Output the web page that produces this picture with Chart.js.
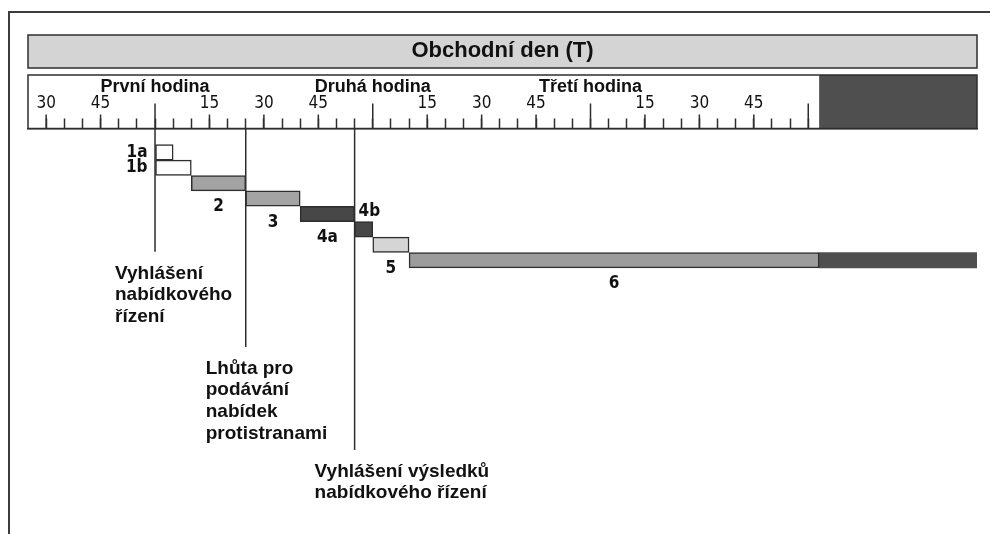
<!DOCTYPE html>
<html lang="cs">
<head>
<meta charset="utf-8">
<title>Obchodní den (T)</title>
<script src="https://cdn.jsdelivr.net/npm/chart.js@4.4.1/dist/chart.umd.min.js"></script>
<style>
  html, body { margin: 0; padding: 0; background: #fff; }
  #wrap { position: relative; width: 990px; height: 534px; overflow: hidden; }
  #frame { position: absolute; left: 8px; top: 11px; width: 1100px; height: 700px;
           border-left: 2px solid #3c3c3c; border-top: 2px solid #3c3c3c; }
  #chart { position: absolute; left: 0; top: 0; }
</style>
</head>
<body>
<div id="wrap">
  <div id="frame"></div>
  <canvas id="chart" width="990" height="534"></canvas>
</div>
<script>
// ============================
// DATA (minutes from the start of the first trading hour)
// ============================
const phases     = ["1a", "1b", "2", "3", "4a", "4b", "5", "6"];
const phaseStart = [0, 0, 10, 25, 40, 55, 60, 70];
const phaseEnd   = [5, 10, 25, 40, 55, 60, 70, 183];
const afterHours = [183, 226.5];          // dark tail after the close

const axisRange  = [-35, 226.5];
const rulerRange = [-30, 180];
const hourTicks  = [0, 60, 120];
const hourNames  = ["První hodina", "Druhá hodina", "Třetí hodina"];

const markerTimes  = [0, 25, 55];
const markerDepth  = [6.46, 12.63, 19.32];  // in row units, where each line stops
const markerLabels = [
  ["Vyhlášení", "nabídkového", "řízení"],
  ["Lhůta pro", "podávání", "nabídek", "protistranami"],
  ["Vyhlášení výsledků", "nabídkového řízení"]
];

const rowRange = [-1.55, 24.78];

// ============================
// STYLE
// ============================
const INK  = "#2e2e2e";
const DARK = "#4f4f4f";
const SANS   = "'Liberation Sans', Arial, Helvetica, sans-serif";
const NARROW = "'Liberation Sans Narrow', 'DejaVu Sans Condensed', 'Liberation Sans', sans-serif";
const TITLE_BAR_H = 33;
const RULER_GAP   = 7;
const LINE_H      = 17;

const phaseFill = {
  "1a": "#ffffff", "1b": "#ffffff", "2": "#a3a3a3", "3": "#a3a3a3",
  "4a": "#474747", "4b": "#474747", "5": "#d5d5d5", "6": "#9c9c9c"
};
const labelSide = { "1a": "left", "1b": "left", "4b": "above" }; // others below

// ============================
// PLUGINS
// ============================
function rulerTop(chart) {
  return chart.titleBlock.top + TITLE_BAR_H + RULER_GAP;
}

const boxesPlugin = {
  id: "boxes",
  beforeDraw(chart) {
    const {ctx} = chart;
    const tb = chart.titleBlock;
    const x = chart.scales.x;
    const top = rulerTop(chart);
    ctx.save();
    // title bar
    ctx.fillStyle = "#d4d4d4";
    ctx.fillRect(tb.left, tb.top, tb.width, TITLE_BAR_H);
    ctx.strokeStyle = INK;
    ctx.lineWidth = 1.5;
    ctx.strokeRect(tb.left, tb.top, tb.width, TITLE_BAR_H);
    // ruler background, dark after the close
    const close = x.getPixelForValue(afterHours[0]);
    ctx.fillStyle = "#ffffff";
    ctx.fillRect(x.left, top, close - x.left, x.bottom - top);
    ctx.fillStyle = DARK;
    ctx.fillRect(close, top, x.right - close, x.bottom - top);
    ctx.restore();
  },
  afterDraw(chart) {
    const {ctx} = chart;
    const x = chart.scales.x;
    const top = rulerTop(chart);
    ctx.save();
    ctx.strokeStyle = INK;
    ctx.lineWidth = 1.5;
    // longer marks for quarter hours and hours
    x.ticks.forEach(t => {
      const v = t.value;
      const len = v % 60 === 0 ? 25 : (v % 15 === 0 ? 14 : 0);
      if (!len) return;
      const px = x.getPixelForValue(v);
      ctx.beginPath();
      ctx.moveTo(px, x.bottom);
      ctx.lineTo(px, x.bottom - len);
      ctx.stroke();
    });
    ctx.strokeRect(x.left, top, x.right - x.left, x.bottom - top);
    ctx.restore();
  }
};

const labelsPlugin = {
  id: "labels",
  afterDatasetsDraw(chart) {
    const {ctx} = chart;
    const xs = chart.scales.x, ys = chart.scales.y;
    ctx.save();
    ctx.fillStyle = "#111";
    ctx.textBaseline = "middle";

    // phase numbers
    ctx.font = "bold 17px " + NARROW;
    chart.getDatasetMeta(0).data.forEach((bar, i) => {
      const {x, y, base, height} = bar.getProps(["x", "y", "base", "height"], true);
      const side = labelSide[phases[i]] || "below";
      if (side === "left") {
        ctx.textAlign = "right";
        ctx.fillText(phases[i], base - 8, y);
      } else if (side === "above") {
        ctx.textAlign = "left";
        ctx.fillText(phases[i], base + 4, y - height / 2 - 10);
      } else {
        ctx.textAlign = "center";
        ctx.fillText(phases[i], (x + base) / 2, y + height / 2 + 16);
      }
    });

    // milestone captions
    ctx.font = "bold 19px " + SANS;
    ctx.textAlign = "left";
    markerTimes.forEach((t, i) => {
      const px = xs.getPixelForValue(t) - 40;
      const py = ys.getPixelForValue(markerDepth[i]) + 21.5;
      markerLabels[i].forEach((line, k) => ctx.fillText(line, px, py + k * 21.7));
    });
    ctx.restore();
  }
};

// ============================
// CHART
// ============================
const markerSets = markerTimes.map((t, i) => ({
  type: "line",
  data: [{x: t, y: rowRange[0]}, {x: t, y: markerDepth[i]}],
  borderColor: INK,
  borderWidth: 1.5,
  pointRadius: 0,
  fill: false,
  clip: false
}));

new Chart(document.getElementById("chart"), {
  type: "bar",
  data: {
    datasets: [
      {
        type: "bar",
        indexAxis: "y",
        data: phases.map((p, i) => ({x: [phaseStart[i], phaseEnd[i]], y: i})),
        backgroundColor: phases.map(p => phaseFill[p]),
        borderColor: INK,
        borderWidth: 1.5,
        borderSkipped: false,
        barPercentage: 1,
        categoryPercentage: 1,
        grouped: false
      },
      {
        type: "bar",
        indexAxis: "y",
        data: [{x: afterHours, y: phases.length - 1}],
        backgroundColor: DARK,
        borderWidth: 0,
        barPercentage: 1,
        categoryPercentage: 1,
        grouped: false
      },
      ...markerSets
    ]
  },
  options: {
    indexAxis: "y",
    responsive: false,
    animation: false,
    events: [],
    layout: { padding: { left: 28, right: 13, top: 35, bottom: 0 } },
    plugins: {
      legend: { display: false },
      tooltip: { enabled: false },
      title: {
        display: true,
        text: "Obchodní den (T)",
        color: "#111",
        font: { family: SANS, size: 22, weight: "bold", lineHeight: 1.2 },
        padding: { top: 3, bottom: 8.1 }
      }
    },
    scales: {
      x: {
        type: "linear",
        position: "top",
        offset: false,
        min: axisRange[0],
        max: axisRange[1],
        grid: { offset: false, drawOnChartArea: false, drawTicks: true, tickLength: 10, tickColor: INK, tickWidth: 1.5 },
        border: { display: true, color: INK, width: 1.5 },
        afterBuildTicks: s => {
          s.ticks = s.ticks.filter(t => t.value >= rulerRange[0] && t.value <= rulerRange[1]);
        },
        ticks: {
          stepSize: 5,
          autoSkip: false,
          maxRotation: 0,
          minRotation: 0,
          padding: 6,
          color: "#111",
          font: c => hourTicks.includes(c.tick && c.tick.value)
            ? { family: SANS, size: 18, weight: "bold", lineHeight: LINE_H / 18 }
            : { family: NARROW, size: 17, lineHeight: LINE_H / 17 },
          callback: v => {
            const h = hourTicks.indexOf(v);
            if (h >= 0) return [hourNames[h], ""];
            return (v % 15 === 0 && v % 60 !== 0) ? String(((v % 60) + 60) % 60) : "";
          }
        }
      },
      y: {
        type: "linear",
        display: false,
        reverse: true,
        offset: false,
        grid: { offset: false },
        min: rowRange[0],
        max: rowRange[1],
        ticks: { includeBounds: false }
      }
    }
  },
  plugins: [boxesPlugin, labelsPlugin]
});
</script>
</body>
</html>
